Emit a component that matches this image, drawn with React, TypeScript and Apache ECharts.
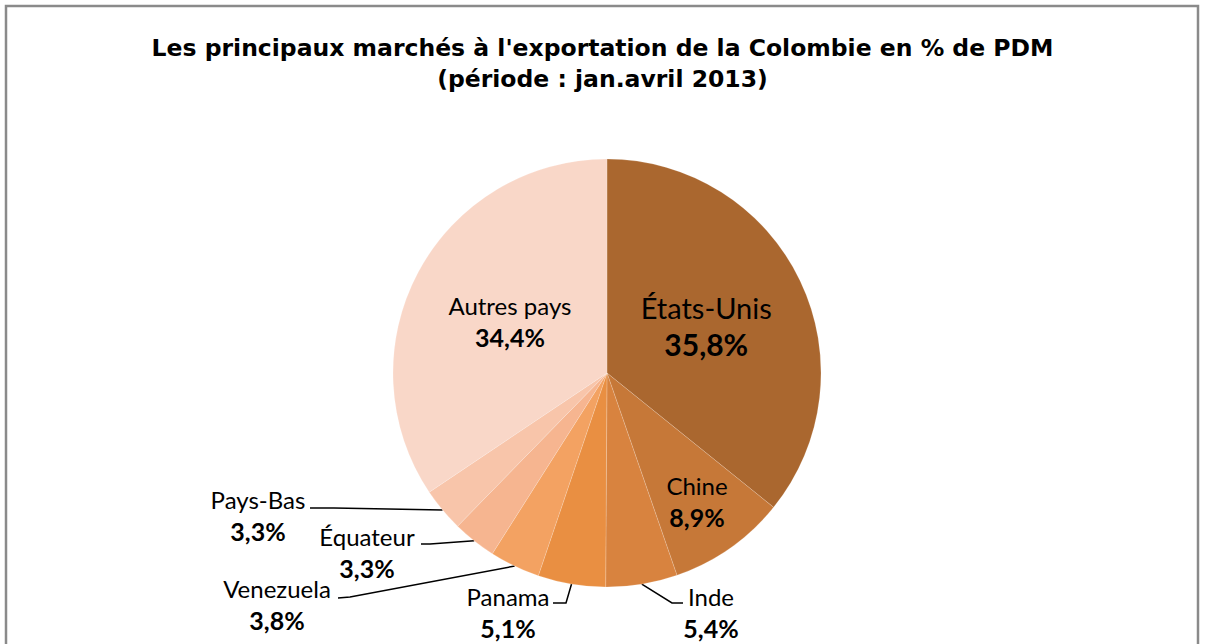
import React, { useEffect, useRef } from "react";
import * as echarts from "echarts";

const categories = ["États-Unis", "Chine", "Inde", "Panama", "Venezuela", "Équateur", "Pays-Bas", "Autres pays"];
const shares = [35.8, 8.9, 5.4, 5.1, 3.8, 3.3, 3.3, 34.4];
const sliceColors = ["#AA672F", "#C67838", "#D8833F", "#E98F42", "#F3A262", "#F6B590", "#F8C5AA", "#F9D7C8"];
const titleLines = ["Les principaux marchés à l'exportation de la Colombie en % de PDM", "(période : jan.avril 2013)"];

// label placements (layout only)
const labelBoxes: Record<number, { x: number; y: number; line?: number[][] }> = {
  1: { x: 697, y: 501 },
  2: { x: 711, y: 612, line: [[672, 603], [683, 603]] },
  3: { x: 508, y: 612, line: [[566, 603], [553, 603]] },
  4: { x: 277, y: 604, line: [[350, 597], [338, 598]] },
  5: { x: 367, y: 552, line: [[430, 544], [421, 544]] },
  6: { x: 258, y: 515, line: [[334, 508], [310, 508]] },
};

const fmt = (v: number) => v.toFixed(1).replace(".", ",") + "%";

export default function App() {
  const ref = useRef<HTMLDivElement>(null);
  useEffect(() => {
    if (!ref.current) return;
    const chart = echarts.init(ref.current, null, { renderer: "svg" });
    const font = "Lato, 'Open Sans', sans-serif";
    const data = categories.map((name, i) => {
      const inside = i === 0 || i === 1 || i === 7;
      const big = i === 0;
      return {
        name,
        value: shares[i],
        itemStyle: { color: sliceColors[i] },
        label: {
          show: true,
          position: inside ? "inside" : "outside",
          formatter: (p: any) => `{n|${p.name}}\n{p|${fmt(p.value)}}`,
          rich: {
            n: { fontFamily: font, fontSize: big ? 29 : 24, color: "#000", lineHeight: big ? 37 : 31, align: "center" },
            p: { fontFamily: font, fontSize: big ? 30 : 25, fontWeight: "bold", color: "#000", lineHeight: big ? 37 : 31, align: "center" },
          },
        },
        labelLine: { show: !inside, length: 10, length2: 10, lineStyle: { color: "#000", width: 1.5 } },
      };
    });
    chart.setOption({
      animation: false,
      title: {
        text: titleLines.join("\n"),
        left: "center",
        top: 27,
        textStyle: { fontFamily: "'DejaVu Sans', sans-serif", fontSize: 23.5, fontWeight: "bold", color: "#000", lineHeight: 31 },
      },
      graphic: [
        {
          type: "rect",
          shape: { x: 6, y: 6, width: 1192, height: 700 },
          style: { fill: "none", stroke: "#8a8a8a", lineWidth: 2.5 },
          silent: true,
        },
      ],
      series: [
        {
          type: "pie",
          center: [607, 373],
          radius: [0, 214],
          startAngle: 90,
          clockwise: true,
          avoidLabelOverlap: false,
          itemStyle: { borderColor: "rgba(255,255,255,0.35)", borderWidth: 0.5 },
          data,
          labelLayout: (params: any) => {
            const b = labelBoxes[params.dataIndex];
            if (!b) return {};
            const out: any = { x: b.x, y: b.y, align: "center", verticalAlign: "middle" };
            if (b.line && params.labelLinePoints) {
              out.labelLinePoints = [params.labelLinePoints[0], b.line[0], b.line[1]];
            }
            return out;
          },
        },
      ],
    });
    return () => chart.dispose();
  }, []);
  return <div ref={ref} style={{ position: "fixed", left: 0, top: 0, width: 1205, height: 644, background: "#fff" }} />;
}
